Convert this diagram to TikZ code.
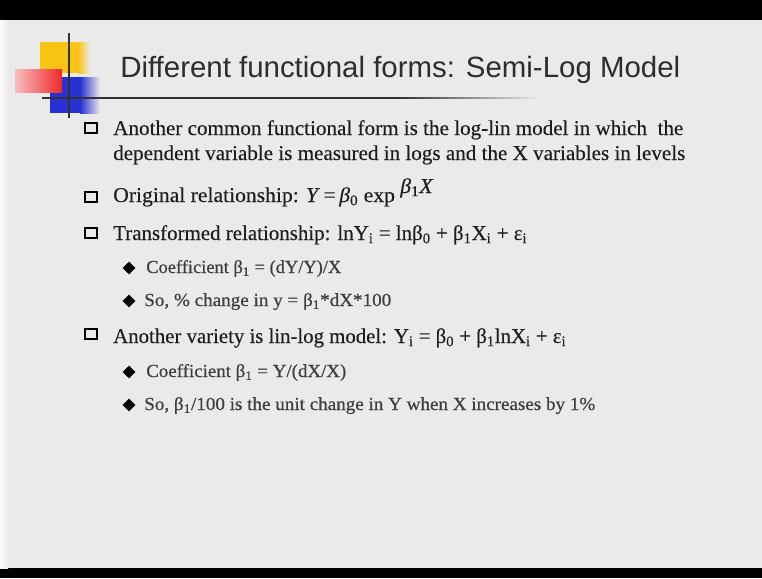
\documentclass[tikz,border=0pt]{standalone}
\usepackage{fontspec}
\usepackage{graphicx}
\setmainfont{Liberation Serif}
\newfontfamily\bodyfont[FakeBold=0.25]{Liberation Serif}
\newfontfamily\subfont[FakeBold=0.6]{Liberation Serif}
\newfontfamily\titlefont{Liberation Sans}
\usetikzlibrary{shapes.geometric}
\definecolor{slidebg}{RGB}{234,234,234}
\definecolor{maintext}{RGB}{30,30,30}
\definecolor{subtext}{RGB}{62,62,62}
\definecolor{titletext}{RGB}{45,45,45}
\definecolor{logoyellow}{RGB}{250,196,20}
\definecolor{logored}{RGB}{238,40,40}
\definecolor{logopink}{RGB}{248,190,190}
\definecolor{logoblue}{RGB}{40,50,210}
\definecolor{rulegray}{RGB}{50,50,50}
\newcommand{\fitw}[2]{\resizebox{#1}{\height}{#2}}
\newcommand{\lo}[1]{\textsubscript{#1}}
\begin{document}
\begin{tikzpicture}[x=0.75pt,y=-0.75pt,
  txt/.style={anchor=base west, inner sep=0pt, text=maintext, font=\bodyfont\fontsize{15.8}{19}\selectfont},
  subtxt/.style={anchor=base west, inner sep=0pt, text=subtext, font=\subfont\fontsize{13.8}{17}\selectfont},
  sqbullet/.style={draw=black, line width=1.7pt, fill=none, minimum width=8.6pt, minimum height=7.4pt, inner sep=0pt},
  dmbullet/.style={diamond, fill=black, inner sep=0pt, minimum width=9.6pt, minimum height=9.6pt}
]
\useasboundingbox (0,0) rectangle (762,578);
% background and bars
\fill[slidebg] (0,0) rectangle (762,578);
\fill[black] (0,0) rectangle (762,20);
\fill[black] (0,568) rectangle (762,578);
\shade[left color=white!80!slidebg, right color=slidebg] (0,20) rectangle (8,568);
% logo
\fill[logoyellow] (40,42) rectangle (78,73);
\shade[left color=logoyellow, right color=slidebg] (78,42) rectangle (90,73);
\fill[logoblue] (50,77) rectangle (80,113);
\shade[left color=logoblue, right color=slidebg] (80,77) rectangle (100,113);
\shade[left color=logopink, right color=logored] (15,69) rectangle (62,92);
\draw[rulegray, line width=1.3pt] (69,33) -- (69,118);
\fill[rulegray] (42,97.2) rectangle (400,98.8);
\shade[left color=rulegray, right color=slidebg] (400,97.2) rectangle (540,98.8);
% title
\node[anchor=base west, inner sep=0pt, text=titletext, font=\titlefont\fontsize{22}{26}\selectfont] (title) at (120,77)
  {\fitw{420pt}{Different functional forms: Semi-Log Model}};
% bullets
\node[sqbullet] (b1) at (91,128) {};
\node[sqbullet] (b2) at (91,197) {};
\node[sqbullet] (b3) at (91,233) {};
\node[sqbullet] (b4) at (91,334) {};
\node[dmbullet] (d1) at (129,268) {};
\node[dmbullet] (d2) at (129,301) {};
\node[dmbullet] (d3) at (129,372) {};
\node[dmbullet] (d4) at (129,405) {};
% text
\node[txt] (t1) at (113,135) {\fitw{427.5pt}{Another common functional form is the log-lin model in which\ \ the}};
\node[txt] (t2) at (113,160) {\fitw{429pt}{dependent variable is measured in logs and the X variables in levels}};
\node[txt] (t3) at (113,202) {\fitw{240pt}{Original relationship: \textit{Y}\,=\,\textit{β}\lo{0} exp \raisebox{6.75pt}{\textit{β}\lo{1}\textit{X}}}};
\node[txt] (t4) at (113,240) {\fitw{310.5pt}{Transformed relationship: lnY\lo{i} = lnβ\lo{0} + β\lo{1}X\lo{i} + ε\lo{i}}};
\node[subtxt] (s1) at (146,273) {\fitw{146.25pt}{Coefficient β\lo{1} = (dY/Y)/X}};
\node[subtxt] (s2) at (144,306) {\fitw{185.25pt}{So, \% change in y = β\lo{1}*dX*100}};
\node[txt] (t5) at (113,343) {\fitw{339.75pt}{Another variety is lin-log model: Y\lo{i} = β\lo{0} + β\lo{1}lnX\lo{i} + ε\lo{i}}};
\node[subtxt] (s3) at (146,377) {\fitw{150pt}{Coefficient β\lo{1} = Y/(dX/X)}};
\node[subtxt] (s4) at (144,410) {\fitw{338.25pt}{So, β\lo{1}/100 is the unit change in Y when X increases by 1\%}};
\end{tikzpicture}
\end{document}
